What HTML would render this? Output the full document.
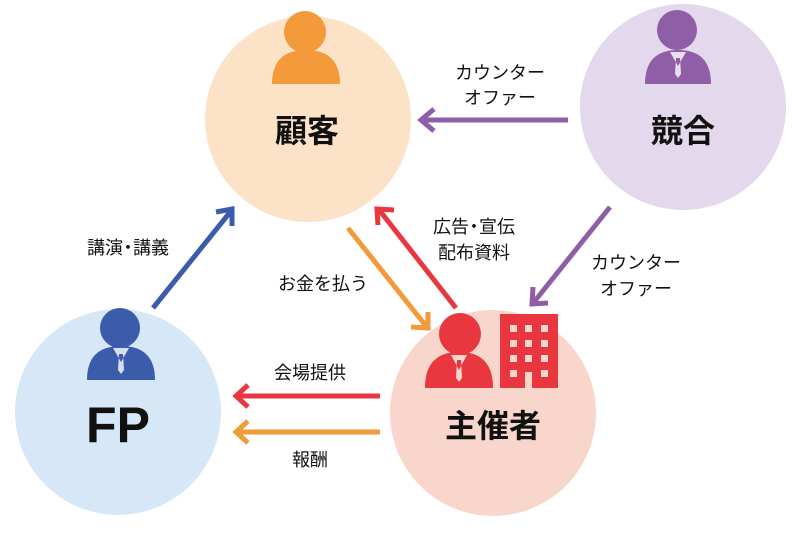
<!DOCTYPE html>
<html><head><meta charset="utf-8"><style>
body{margin:0;background:#fff}
svg{display:block}
text{font-family:"Liberation Sans","Noto Sans CJK JP",sans-serif;fill:#111}
</style></head><body>
<svg width="800" height="533" viewBox="0 0 800 533">
<circle cx="308" cy="119" r="103" fill="#fce3c8"/>
<circle cx="683" cy="107" r="103" fill="#e3d8ec"/>
<circle cx="118" cy="412" r="103" fill="#d6e8f7"/>
<circle cx="493" cy="413" r="103" fill="#f9d6cc"/>
<circle cx="305" cy="32" r="21" fill="#f39a3a"/>
<path d="M272 84 Q272 50 306 50 Q340 50 340 84Z" fill="#f39a3a"/>
<circle cx="677" cy="30" r="20" fill="#8e5ea6"/>
<path d="M645 84 Q645 50 678 50 Q711 50 711 84Z" fill="#8e5ea6"/>
<path d="M670 52 L678 66 L686 52Z M676 58 L680 58 L681 74 L678 78 L675 74Z" fill="#fff" opacity="0.8"/>
<circle cx="120" cy="328" r="20" fill="#3b5bab"/>
<path d="M87 380 Q87 346 121 346 Q155 346 155 380Z" fill="#3b5bab"/>
<path d="M113 348 L121 362 L129 348Z M119 354 L123 354 L124 370 L121 374 L118 370Z" fill="#fff" opacity="0.8"/>
<circle cx="460" cy="334" r="21" fill="#e8373e"/>
<path d="M425 388 Q425 352 459 352 Q493 352 493 388Z" fill="#e8373e"/>
<path d="M451 355 L459 370 L467 355Z M457 360 L461 360 L462 378 L459 382 L456 378Z" fill="#f9d6cc"/>
<rect x="500" y="314" width="58" height="74" fill="#e8373e"/>
<g fill="#f9d6cc">
<rect x="510" y="325" width="7" height="7"/><rect x="525" y="325" width="7" height="7"/><rect x="541" y="325" width="7" height="7"/>
<rect x="510" y="340" width="7" height="7"/><rect x="525" y="340" width="7" height="7"/><rect x="541" y="340" width="7" height="7"/>
<rect x="510" y="355" width="7" height="7"/><rect x="525" y="355" width="7" height="7"/><rect x="541" y="355" width="7" height="7"/>
<rect x="510" y="370" width="7" height="7"/><rect x="541" y="370" width="7" height="7"/>
<rect x="525" y="372" width="7" height="16"/>
</g>
<g fill="none" stroke-width="5">
<g stroke="#3b5bab"><line x1="153" y1="308" x2="231" y2="211"/><polyline points="216,212 232,209 232,226"/></g>
<g stroke="#f39a3a"><line x1="348" y1="228" x2="426" y2="326"/><polyline points="411,327 428,328 428,312"/></g>
<g stroke="#e8373e"><line x1="456" y1="308" x2="380" y2="211"/><polyline points="378,225 377,209 394,210"/></g>
<g stroke="#8e5ea6"><line x1="568" y1="120" x2="423" y2="120"/><polyline points="434,109 421,120 434,131"/></g>
<g stroke="#8e5ea6"><line x1="610" y1="207" x2="534" y2="302"/><polyline points="533,287 532,304 548,303"/></g>
<g stroke="#e8373e"><line x1="380" y1="396" x2="237" y2="396"/><polyline points="248,385 236,396 248,407"/></g>
<g stroke="#f39a3a"><line x1="380" y1="432" x2="237" y2="432"/><polyline points="248,421 236,432 248,443"/></g>
</g>
<g font-weight="bold" font-size="32" text-anchor="middle">
<text x="307" y="142">顧客</text>
<text x="683" y="142">競合</text>
<text x="493" y="437">主催者</text>
<text x="118" y="442" font-size="50">FP</text>
</g>
<g font-size="18" text-anchor="middle">
<text x="500" y="79">カウンター</text>
<text x="500" y="104">オファー</text>
<text x="636" y="269">カウンター</text>
<text x="636" y="295">オファー</text>
<text x="474" y="233">広告<tspan dx="-4">・</tspan><tspan dx="-4">宣伝</tspan></text>
<text x="474" y="259">配布資料</text>
<text x="323" y="290">お金を払う</text>
<text x="128" y="254">講演<tspan dx="-4">・</tspan><tspan dx="-4">講義</tspan></text>
<text x="310" y="379">会場提供</text>
<text x="310" y="466">報酬</text>
</g>
</svg>
</body></html>
